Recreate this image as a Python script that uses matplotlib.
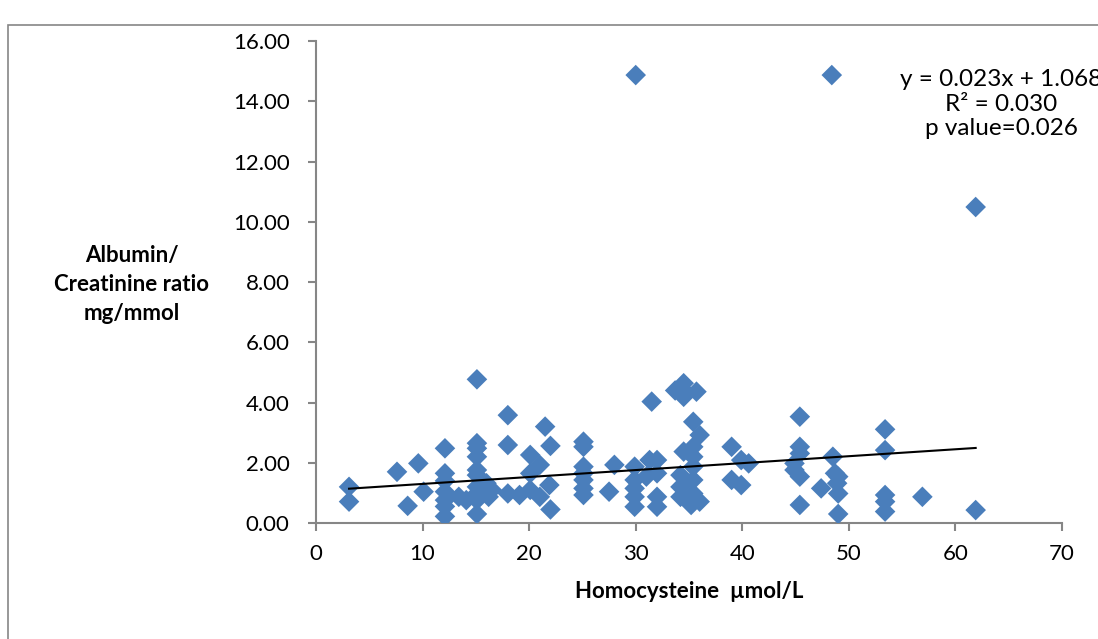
import matplotlib.pyplot as plt
from matplotlib.patches import Rectangle
from matplotlib.ticker import FormatStrFormatter

plt.rcParams['font.family'] = ['Lato', 'DejaVu Sans']

# homocysteine (umol/L) vs albumin/creatinine ratio (mg/mmol)
hcy = [3.1, 3.1, 7.6, 8.6, 9.6, 10.1,
       12.1, 12.1, 12.1, 12.1, 12.1, 12.1, 12.1, 13.4, 14.1,
       15.1, 15.1, 15.1, 15.1, 15.1, 15.1, 15.1, 15.1, 15.1, 15.1,
       16.0, 16.2, 16.5, 18.0, 18.0, 18.0, 19.1,
       20.1, 20.1, 20.1, 21.0, 21.0, 21.5, 21.9, 22.0, 22.0,
       25.1, 25.1, 25.1, 25.1, 25.1, 25.1, 25.1, 27.5, 28.0,
       29.9, 29.9, 29.9, 29.9, 29.9, 30.0, 31.0, 31.3, 31.5,
       32.0, 32.0, 32.0, 32.0,
       33.7, 34.5, 34.5, 34.5, 35.7, 35.4, 36.0, 34.5,
       35.4, 35.4, 35.4, 34.2, 34.2, 34.2, 35.4, 35.4, 36.0, 35.2,
       39.0, 39.9, 40.6, 39.0, 39.9,
       45.4, 45.4, 45.4, 44.9, 44.9, 45.4, 45.4,
       47.4, 48.5, 48.7, 48.9, 49.0, 49.0, 49.0, 48.4,
       53.4, 53.4, 53.4, 53.4, 53.4, 56.9, 61.9, 61.9]
acr = [1.20, 0.71, 1.70, 0.57, 1.98, 1.04,
       2.48, 1.65, 1.04, 0.76, 0.55, 0.22, 1.40, 0.87, 0.76,
       4.77, 2.65, 2.48, 2.20, 1.76, 1.59, 1.20, 0.98, 0.76, 0.30,
       1.32, 0.87, 1.10, 3.58, 2.59, 0.98, 0.93,
       2.26, 1.65, 1.10, 1.93, 0.87, 3.20, 1.26, 2.56, 0.45,
       2.70, 2.53, 1.87, 1.65, 1.43, 1.15, 0.93, 1.04, 1.93,
       1.87, 1.43, 1.15, 0.87, 0.54, 14.87, 1.54, 2.09, 4.03,
       2.09, 1.65, 0.87, 0.54,
       4.40, 4.64, 4.41, 4.19, 4.36, 3.36, 2.92, 2.37,
       2.53, 2.20, 1.87, 1.59, 1.20, 0.87, 1.43, 0.98, 0.71, 0.60,
       2.53, 2.09, 1.98, 1.43, 1.26,
       3.53, 2.53, 2.31, 1.98, 1.76, 1.54, 0.60,
       1.15, 2.20, 1.65, 1.32, 0.98, 1.54, 0.30, 14.87,
       3.11, 2.42, 0.93, 0.71, 0.38, 0.87, 10.49, 0.43]

slope = 0.023
intercept = 1.068
fit_x = [min(hcy), max(hcy)]
fit_y = [slope * v + intercept for v in fit_x]

fig = plt.figure(figsize=(10.98, 6.39), dpi=100)
ax = fig.add_axes([0.2878, 0.1815, 0.6794, 0.7543])

ax.scatter(hcy, acr, marker='D', s=110, color='#4A7EBB', edgecolors='none', zorder=3)
ax.plot(fit_x, fit_y, color='black', lw=1.5, zorder=4)

ax.set_xlim(0, 70)
ax.set_ylim(0, 16)
ax.set_xticks(range(0, 71, 10))
ax.set_yticks(range(0, 17, 2))
ax.yaxis.set_major_formatter(FormatStrFormatter('%.2f'))
for side in ['top', 'right']:
    ax.spines[side].set_visible(False)
for side in ['left', 'bottom']:
    ax.spines[side].set_color('#868686')
    ax.spines[side].set_linewidth(1.5)
ax.tick_params(axis='both', colors='#868686', width=1.5, length=6, labelsize=16,
               labelcolor='black')
ax.tick_params(axis='y', pad=13)
ax.tick_params(axis='x', pad=9)

ax.set_xlabel('Homocysteine  \u00b5mol/L', fontsize=16, fontweight='bold', labelpad=12)
fig.text(0.120, 0.555, 'Albumin/\nCreatinine ratio\nmg/mmol', ha='center', va='center',
         fontsize=16, fontweight='bold', linespacing=1.45)

fig.text(0.912, 0.837, 'y = 0.023x + 1.068\nR\u00b2 = 0.030\np value=0.026',
         ha='center', va='center', fontsize=17.5, linespacing=1.2)

fig.patches.append(Rectangle((0.0073, -0.1), 1.2, 1.061, transform=fig.transFigure,
                             fill=False, edgecolor='#868686', lw=1.2))

plt.savefig('out.png', dpi=100)
